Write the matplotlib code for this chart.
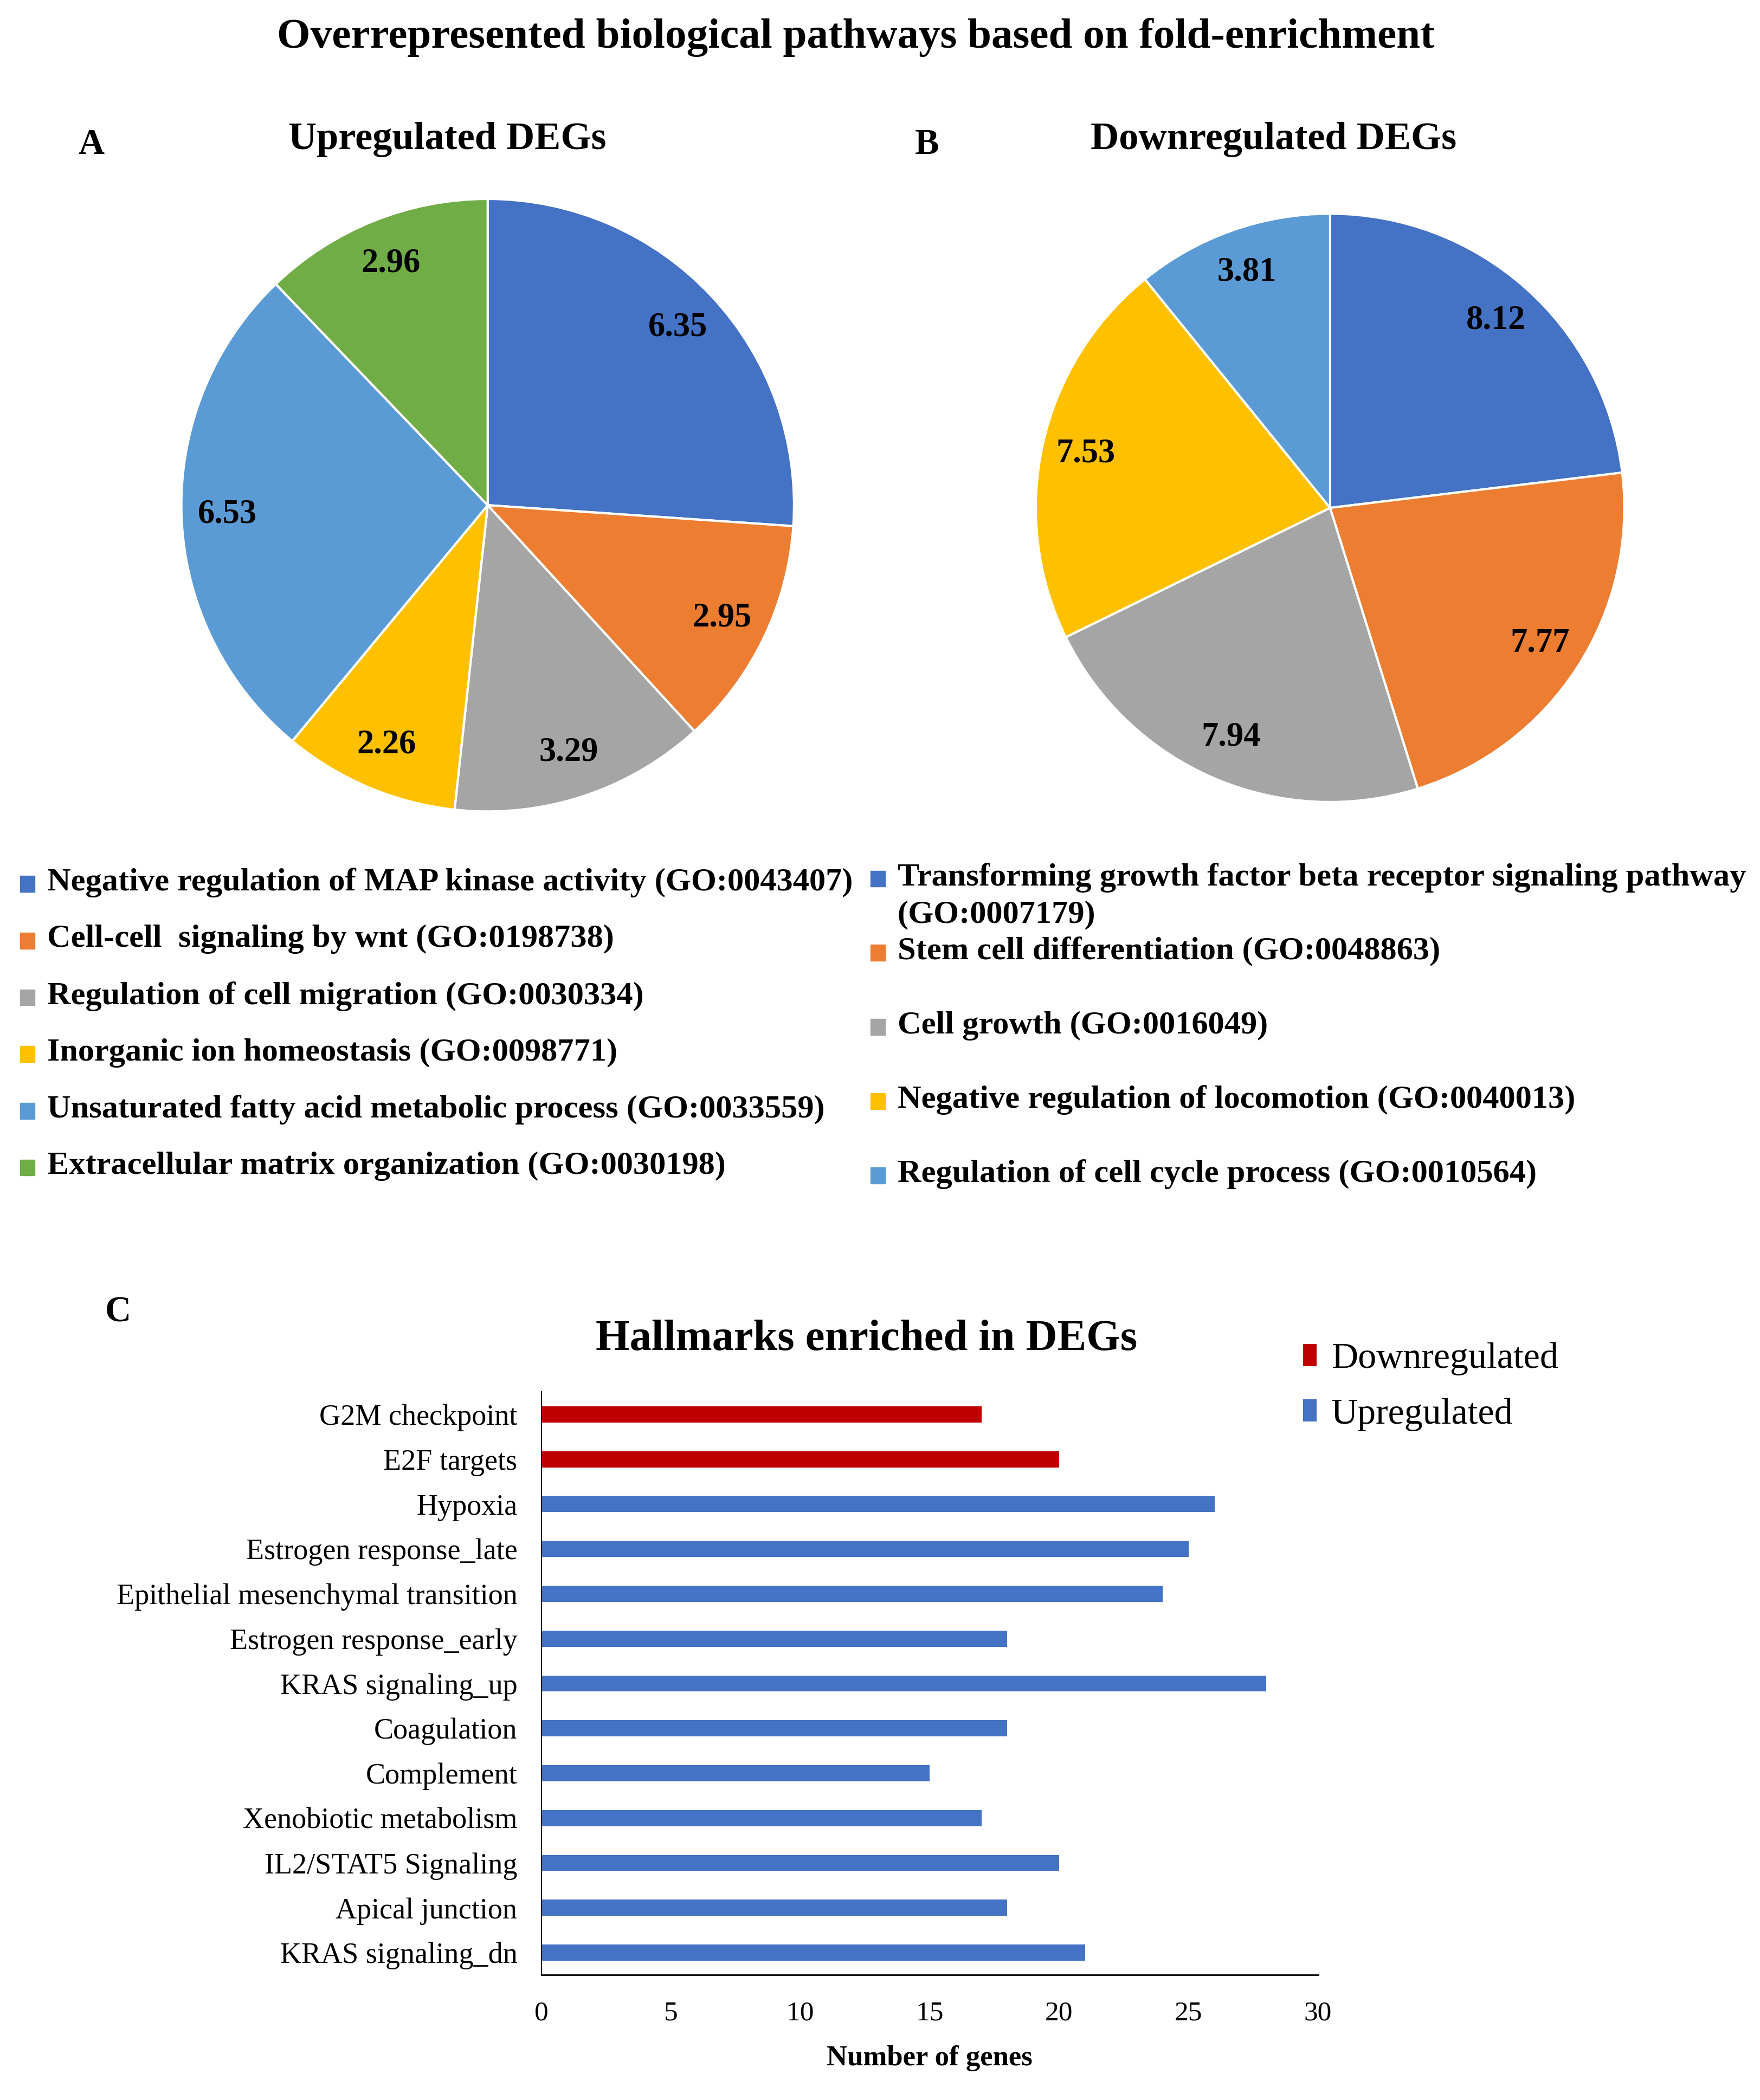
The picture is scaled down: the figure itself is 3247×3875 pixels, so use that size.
import numpy as np
import matplotlib.pyplot as plt
from matplotlib.patches import Rectangle

plt.rcParams['font.family'] = ['Liberation Serif', 'DejaVu Serif']

# Datos: fold-enrichment (paneles A y B)
up_terms = ['Negative regulation of MAP kinase activity (GO:0043407)',
            'Cell-cell  signaling by wnt (GO:0198738)',
            'Regulation of cell migration (GO:0030334)',
            'Inorganic ion homeostasis (GO:0098771)',
            'Unsaturated fatty acid metabolic process (GO:0033559)',
            'Extracellular matrix organization (GO:0030198)']
up_fold = [6.35, 2.95, 3.29, 2.26, 6.53, 2.96]

down_terms = ['Transforming growth factor beta receptor signaling pathway\n(GO:0007179)',
              'Stem cell differentiation (GO:0048863)',
              'Cell growth (GO:0016049)',
              'Negative regulation of locomotion (GO:0040013)',
              'Regulation of cell cycle process (GO:0010564)']
down_fold = [8.12, 7.77, 7.94, 7.53, 3.81]

colors_up = ['#4472C4', '#ED7D31', '#A5A5A5', '#FFC000', '#5B9BD5', '#70AD47']
colors_down = ['#4472C4', '#ED7D31', '#A5A5A5', '#FFC000', '#5B9BD5']

# Datos: hallmarks (panel C)
hallmarks = ['G2M checkpoint', 'E2F targets', 'Hypoxia', 'Estrogen response_late',
             'Epithelial mesenchymal transition', 'Estrogen response_early',
             'KRAS signaling_up', 'Coagulation', 'Complement', 'Xenobiotic metabolism',
             'IL2/STAT5 Signaling', 'Apical junction', 'KRAS signaling_dn']
n_genes = [17, 20, 26, 25, 24, 18, 28, 18, 15, 17, 20, 18, 21]
regulation = ['Downregulated', 'Downregulated'] + ['Upregulated'] * 11
reg_colors = {'Downregulated': '#C00000', 'Upregulated': '#4472C4'}

# unidades de maqueta (coordenadas de la referencia reducida)
W, H = 1310, 1563

fig = plt.figure(figsize=(32.47, 38.75), dpi=100)


def box(x0, y0, x1, y1):
    return [x0 / W, 1 - y1 / H, (x1 - x0) / W, (y1 - y0) / H]


ov = fig.add_axes([0, 0, 1, 1])
ov.set_xlim(0, W)
ov.set_ylim(H, 0)
ov.axis('off')


def draw_pie(cx, cy, r, values, colors):
    m = 1.05
    ax = fig.add_axes(box(cx - m * r, cy - m * r, cx + m * r, cy + m * r))
    wedges, _, autotexts = ax.pie(values, colors=colors, startangle=90, counterclock=False,
                                  autopct='%.2f', pctdistance=0.85,
                                  wedgeprops=dict(edgecolor='white', linewidth=3),
                                  textprops=dict(fontsize=45, fontweight='bold'))
    for t, v in zip(autotexts, values):
        t.set_text(f'{v:.2f}')
    ax.set_xlim(-m, m)
    ax.set_ylim(-m, m)
    return wedges


def draw_key(x, y, color, label, fs=43.5):
    ov.add_patch(Rectangle((x, y - 6), 11, 12, color=color))
    ov.text(x + 20, y - 12, label, fontsize=fs, fontweight='bold', va='top', linespacing=1.35)


# Titulos
ov.text(637, 28, 'Overrepresented biological pathways based on fold-enrichment',
        fontsize=57, fontweight='bold', ha='center', va='center')
ov.text(68, 108, 'A', fontsize=48, fontweight='bold', ha='center', va='center')
ov.text(333, 104, 'Upregulated DEGs', fontsize=52, fontweight='bold', ha='center', va='center')
ov.text(690, 108, 'B', fontsize=48, fontweight='bold', ha='center', va='center')
ov.text(948, 104, 'Downregulated DEGs', fontsize=52, fontweight='bold', ha='center', va='center')

# Panel A
w_up = draw_pie(363, 376, 228, up_fold, colors_up)
for i, (w, lab) in enumerate(zip(w_up, up_terms)):
    draw_key(15, 658 + 42.2 * i, w.get_facecolor(), lab)

# Panel B
w_down = draw_pie(990, 378, 219, down_fold, colors_down)
for i, (w, lab) in enumerate(zip(w_down, down_terms)):
    draw_key(648, 654 + 55.2 * i, w.get_facecolor(), lab)

# Panel C
ov.text(88, 977, 'C', fontsize=48, fontweight='bold', ha='center', va='center')
ov.text(645, 997, 'Hallmarks enriched in DEGs', fontsize=58, fontweight='bold',
        ha='center', va='center')

axc = fig.add_axes(box(403, 1036, 981, 1470))
ypos = np.arange(len(hallmarks))
vals = np.array(n_genes)
regs = np.array(regulation)
for reg in ['Downregulated', 'Upregulated']:
    mask = regs == reg
    axc.barh(ypos[mask], vals[mask], height=0.36, color=reg_colors[reg], label=reg)

axc.set_ylim(len(hallmarks) - 0.5, -0.5)
axc.set_xlim(0, 30)
axc.set_yticks(ypos)
axc.set_yticklabels(hallmarks, fontsize=39)
axc.set_xticks(np.arange(0, 31, 5))
axc.tick_params(axis='x', length=0, pad=34, labelsize=37)
axc.tick_params(axis='y', length=0, pad=32)
axc.set_xlabel('Number of genes', fontsize=38, fontweight='bold', labelpad=26)
for s in ['top', 'right']:
    axc.spines[s].set_visible(False)
axc.spines['left'].set_linewidth(1.5)
axc.spines['bottom'].set_linewidth(2)

axc.legend(loc='upper left', bbox_to_anchor=(970 / W, 1 - 999 / H), bbox_transform=fig.transFigure,
           frameon=False, fontsize=49, handlelength=0.36, handleheight=0.55, handletextpad=0.4,
           labelspacing=0.6, borderpad=0, borderaxespad=0)

fig.savefig('out.png', dpi=100)
